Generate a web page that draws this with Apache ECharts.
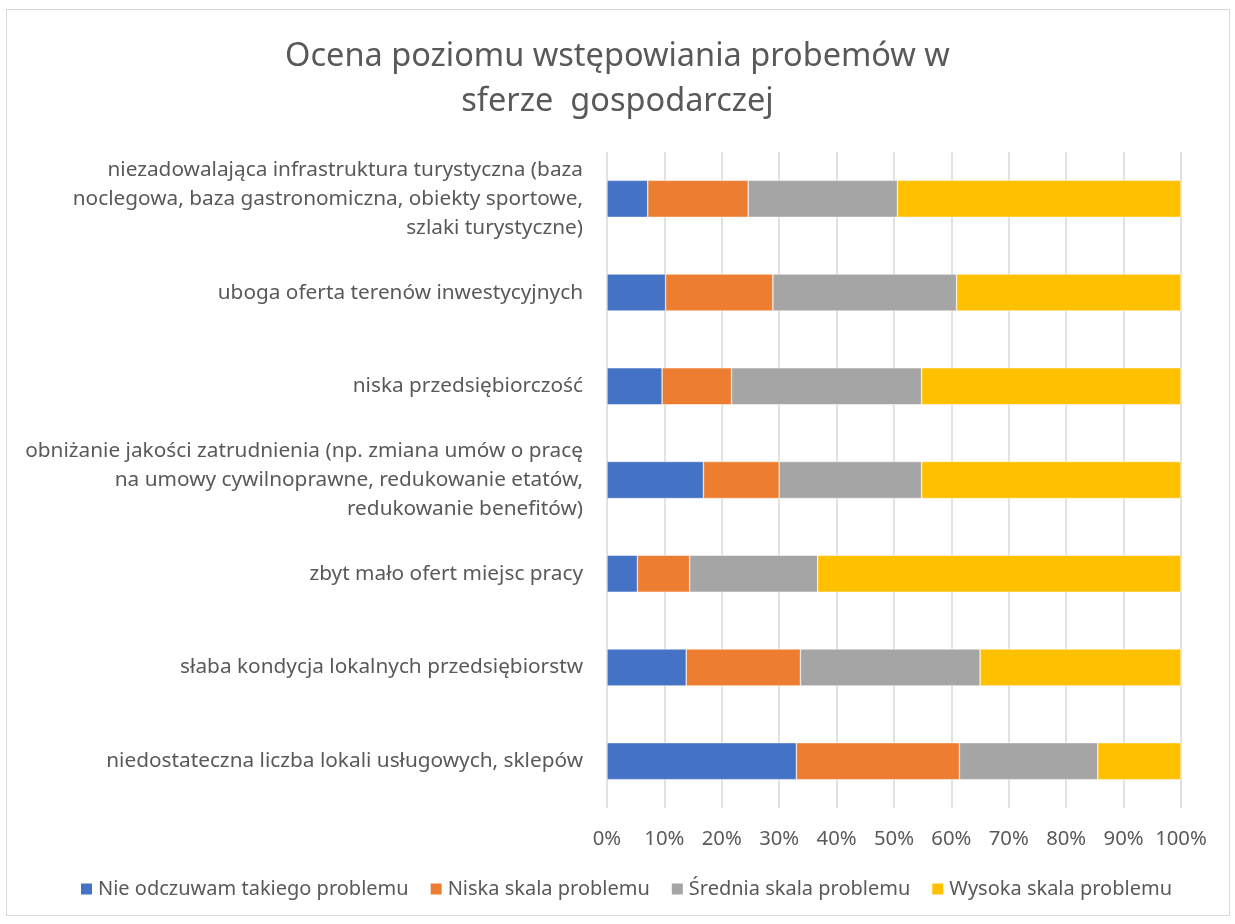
<!DOCTYPE html>
<html>
<head>
<meta charset="utf-8">
<script src="https://cdn.jsdelivr.net/npm/echarts@6/dist/echarts.min.js"></script>
<style>
  html, body { margin: 0; padding: 0; background: #fff; }
  #frame { position: absolute; left: 6px; top: 9px; width: 1222px; height: 905px; border: 1px solid #d9d9d9; }
  #main { position: absolute; left: 0; top: 0; width: 1235px; height: 924px; }
</style>
</head>
<body>
<div id="frame"></div>
<div id="main"></div>
<script>
// kategorie od góry do dołu
const categories = [
  'niezadowalająca infrastruktura turystyczna (baza\nnoclegowa, baza gastronomiczna, obiekty sportowe,\nszlaki turystyczne)',
  'uboga oferta terenów inwestycyjnych',
  'niska przedsiębiorczość',
  'obniżanie jakości zatrudnienia (np. zmiana umów o pracę\nna umowy cywilnoprawne, redukowanie etatów,\nredukowanie benefitów)',
  'zbyt mało ofert miejsc pracy',
  'słaba kondycja lokalnych przedsiębiorstw',
  'niedostateczna liczba lokali usługowych, sklepów'
]
const seriesNames = [
  'Nie odczuwam takiego problemu',
  'Niska skala problemu',
  'Średnia skala problemu',
  'Wysoka skala problemu'
]
const brak = [7.1, 10.2, 9.6, 16.8, 5.3, 13.8, 33.0]
const niska = [17.5, 18.7, 12.1, 13.2, 9.1, 19.9, 28.4]
const srednia = [26.0, 32.0, 33.1, 24.8, 22.3, 31.3, 24.1]
const wysoka = [49.4, 39.1, 45.2, 45.2, 63.3, 35.0, 14.5]
const colors = ['#4472C4', '#ED7D31', '#A5A5A5', '#FFC000']

const font = 'Noto Sans'
const textColor = '#595959'

const myChart = echarts.init(document.getElementById('main'))

const option = {
  animation: false,
  color: colors,
  textStyle: { fontFamily: font },
  title: {
    text: 'Ocena poziomu wstępowiania probemów w\nsferze  gospodarczej',
    left: 'center',
    top: 29,
    textStyle: {
      fontFamily: font,
      fontSize: 32.5,
      fontWeight: 'normal',
      color: textColor,
      lineHeight: 45
    }
  },
  legend: {
    bottom: 20,
    left: 74,
    itemWidth: 13,
    itemHeight: 13,
    itemGap: 20,
    icon: 'rect',
    textStyle: { fontFamily: font, fontSize: 20, color: textColor },
    data: seriesNames
  },
  grid: {
    left: 607,
    right: 54,
    top: 152,
    bottom: 116
  },
  xAxis: {
    type: 'value',
    min: 0,
    max: 100,
    interval: 10,
    axisLine: { show: false },
    axisTick: { show: false },
    axisLabel: {
      formatter: '{value}%',
      fontFamily: font,
      fontSize: 20.3,
      color: textColor,
      margin: 21
    },
    splitLine: { lineStyle: { color: '#d9d9d9', width: 1.5 } }
  },
  yAxis: {
    type: 'category',
    inverse: true,
    data: categories,
    axisLine: { show: false },
    axisTick: { show: false },
    axisLabel: {
      fontFamily: font,
      fontSize: 20.8,
      color: textColor,
      lineHeight: 29,
      margin: 24
    }
  },
  series: [brak, niska, srednia, wysoka].map((data, i) => ({
    name: seriesNames[i],
    type: 'bar',
    stack: 'total',
    barWidth: 37,
    itemStyle: { borderColor: '#ffffff', borderWidth: 0.5 },
    data: data
  }))
}

myChart.setOption(option)
</script>
</body>
</html>
